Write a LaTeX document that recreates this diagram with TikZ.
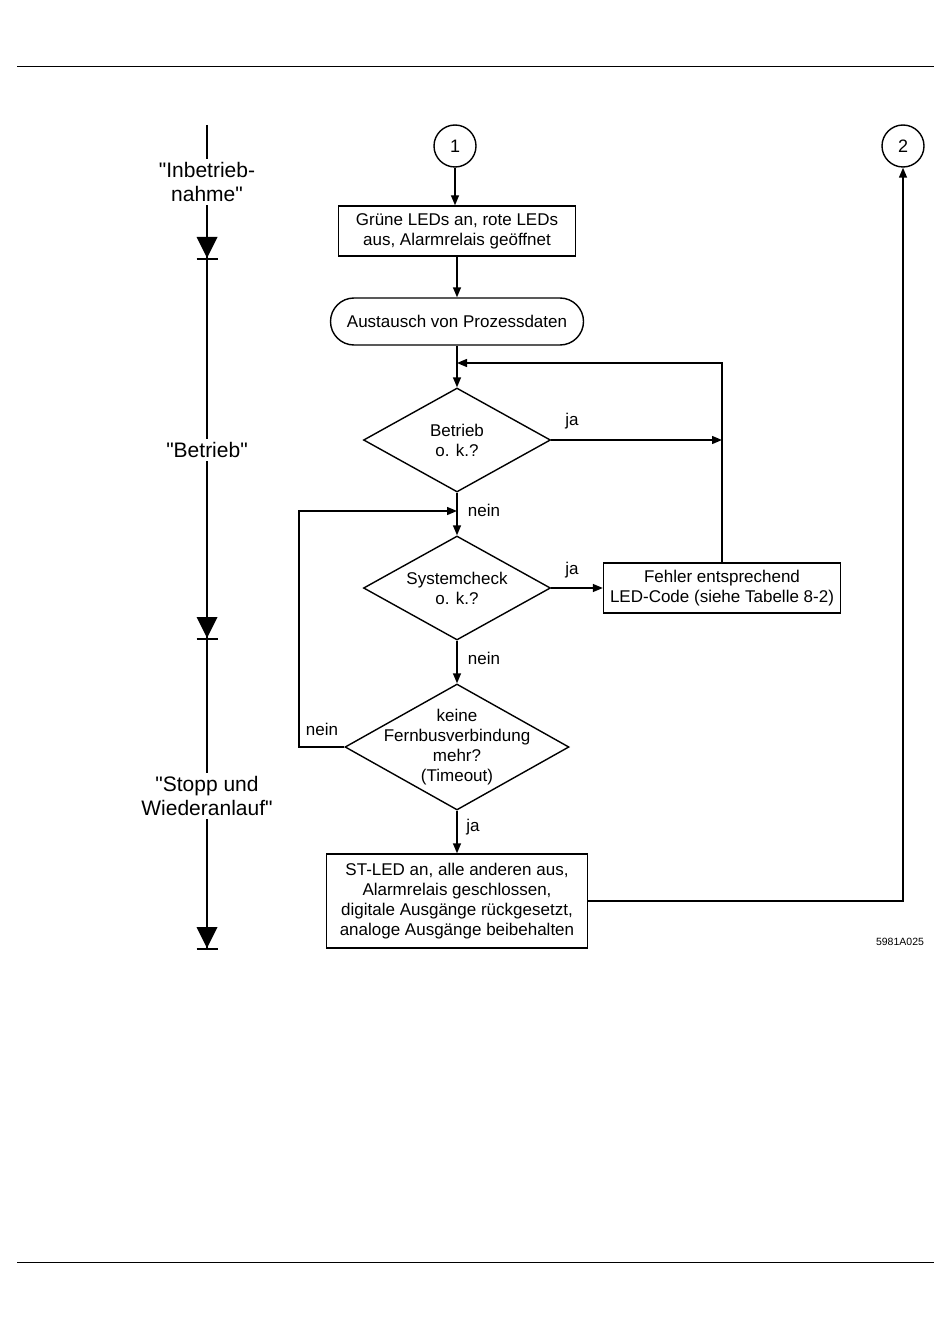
\documentclass[tikz,border=0pt]{standalone}
\usepackage{fontspec}
\setmainfont{Liberation Sans}[Ligatures=TeXOff]
\usetikzlibrary{arrows.meta,shapes.geometric}
\begin{document}
\begin{tikzpicture}[x=1pt,y=-1pt,
  line width=1.4pt,
  every node/.style={font=\fontsize{17}{20}\selectfont, inner sep=2pt},
  arr/.style={-{Triangle[length=10pt,width=8pt]}},
  box/.style={draw, rectangle, align=center, inner sep=0pt},
  dia/.style={draw, diamond, inner sep=0pt},
  conn/.style={draw, circle, minimum size=42pt, inner sep=0pt, font=\fontsize{18}{20}\selectfont},
  lbl/.style={anchor=center},
  phase/.style={fill=white, align=center, font=\fontsize{21}{24}\selectfont, inner sep=3pt},
  tri/.style={fill=black, draw=none}
]
\useasboundingbox (0,0) rectangle (950,1324);
% page rules
\coordinate (tl) at (17,67); \coordinate (tr) at (934,67);
\coordinate (bl) at (17,1262); \coordinate (br) at (934,1262);
\draw[line width=1pt] (tl) -- (tr);
\draw[line width=1pt] (bl) -- (br);

% timeline
\coordinate (t0) at (207,125);
\coordinate (t3) at (207,950);
\draw (t0) -- (t3);
\node[phase] (p1) at (207,182) {"Inbetrieb-\\nahme"};
\node[phase] (p2) at (207,450) {"Betrieb"};
\node[phase] (p3) at (207,796) {"Stopp und\\Wiederanlauf"};
\foreach \y in {237,617,927} {
  \fill[tri] (196.5,\y) -- (217.5,\y) -- (207,\y+21) -- cycle;
  \draw (196.5,\y+22) -- (217.5,\y+22);
}

% main flow nodes
\node[conn] (c1) at (455,146) {1};
\node[conn] (c2) at (903,146) {2};
\node[box, minimum width=237pt, minimum height=50pt] (b1) at (457,231)
  {Grüne LEDs an, rote LEDs\\aus, Alarmrelais geöffnet};
\node[box, rounded corners=23.5pt, minimum width=253pt, minimum height=47pt] (term) at (457,321.5)
  {Austausch von Prozessdaten};
\node[dia, minimum width=187pt, minimum height=104pt] (d1) at (457,440) {};
\node[align=center] at (d1) {Betrieb\\o. k.?};
\node[dia, minimum width=187pt, minimum height=104pt] (d2) at (457,588) {};
\node[align=center] at (d2) {Systemcheck\\o. k.?};
\node[box, minimum width=237pt, minimum height=50pt] (b2) at (722,588)
  {Fehler entsprechend\\LED-Code (siehe Tabelle 8-2)};
\node[dia, minimum width=224pt, minimum height=126pt] (d3) at (457,747) {};
\node[align=center] at (d3) {keine\\Fernbusverbindung\\mehr?\\(Timeout)};
\node[box, minimum width=261pt, minimum height=94pt] (b3) at (457,901)
  {ST-LED an, alle anderen aus,\\Alarmrelais geschlossen,\\digitale Ausgänge rückgesetzt,\\analoge Ausgänge beibehalten};
\node[font=\fontsize{10.5}{12}\selectfont] (code) at (900,942) {5981A025};

% connectors
\coordinate (m1) at (457,363);
\coordinate (m2) at (457,511);
\coordinate (lp) at (299,747);
\draw[arr] (c1.south) -- (c1.south |- b1.north);
\draw[arr] (b1.south) -- (term.north);
\draw[arr] (term.south) -- (d1.north);
\draw[arr] (b2.north) |- (m1);
\draw[arr] (d1.east) -- (d1.east -| b2.north);
\draw[arr] (d1.south) -- (d2.north);
\draw[arr] (d2.east) -- (b2.west);
\draw[arr] (d2.south) -- (d3.north);
\draw[arr] (d3.west) -- (lp) |- (m2);
\draw[arr] (d3.south) -- (b3.north);
\draw[arr] (b3.east) -| (c2.south);

% labels
\node[lbl] (l1) at (572,421) {ja};
\node[lbl] (l2) at (484,510) {nein};
\node[lbl] (l3) at (572,570) {ja};
\node[lbl] (l4) at (484,658) {nein};
\node[lbl] (l5) at (322,729) {nein};
\node[lbl] (l6) at (473,827) {ja};
\end{tikzpicture}
\end{document}
